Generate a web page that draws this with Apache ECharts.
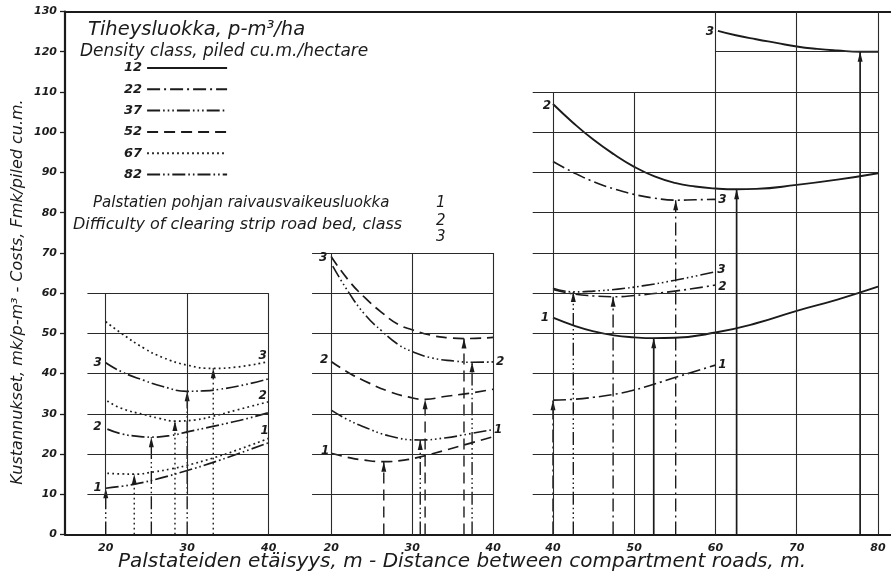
<!DOCTYPE html>
<html>
<head>
<meta charset="utf-8">
<script src="https://cdn.jsdelivr.net/npm/echarts@6/dist/echarts.min.js"></script>
<style>
  html, body { margin: 0; padding: 0; background: #ffffff; }
  #chart { width: 891px; height: 575px; }
</style>
</head>
<body>
<div id="chart"></div>
<script>
// ---- Values ----------------------------------------------------------
// Cost axis (Fmk per piled cu.m.)
const costTicks = [0, 10, 20, 30, 40, 50, 60, 70, 80, 90, 100, 110, 120, 130];
// Distance axis labels of the three panels (m)
const distTicksA = [20, 30, 40];
const distTicksB = [20, 30, 40];
const distTicksC = [40, 50, 60, 70, 80];
// Density classes, piled cu.m. per hectare
const densityClasses = ['12', '22', '37', '52', '67', '82'];

// Cost curves [distance m, cost Fmk/piled cu.m.], one per density and clearing class.
// Left panel: densities 82 and 67
const d82c1 = [[20, 11.5], [22, 12.0], [24, 12.7], [26.7, 14.0], [30, 15.9], [33, 17.8], [36, 19.9], [40, 22.8]];
const d82c2 = [[20.2, 26.2], [22, 25.0], [24, 24.4], [25.6, 24.2], [28, 24.6], [30, 25.5], [33, 26.8], [35, 27.7], [37.5, 28.9], [40, 30.3]];
const d82c3 = [[20, 42.7], [22, 40.4], [24.7, 38.3], [27, 36.8], [30, 35.6], [32, 35.7], [34, 36.1], [37, 37.2], [40, 38.7]];
const d67c1 = [[20.2, 15.2], [22, 15.05], [23.5, 15.0], [26, 15.6], [28, 16.3], [30, 17.2], [33, 18.9], [36, 20.9], [40, 23.9]];
const d67c2 = [[20.2, 33.2], [22, 31.3], [24.7, 29.8], [26.5, 28.9], [28.5, 28.2], [31, 28.5], [33, 29.3], [36, 30.9], [40, 33.0]];
const d67c3 = [[20, 52.9], [22, 49.9], [24.7, 46.3], [27, 44.0], [30, 42.1], [33.2, 41.3], [36, 41.6], [40, 43.0]];
// Middle panel: densities 52 and 37
const d52c1 = [[20, 20.2], [22, 19.2], [24, 18.5], [26.5, 18.1], [29, 18.5], [31, 19.3], [34, 20.9], [37, 22.6], [40, 24.3]];
const d52c2 = [[20, 43.0], [22, 40.4], [24, 38.3], [27.2, 35.5], [29.5, 34.2], [31.6, 33.6], [34, 34.3], [37, 35.1], [40, 36.1]];
const d52c3 = [[20, 69.1], [22.1, 63.3], [24.2, 58.8], [26.3, 55.1], [28.3, 52.2], [30, 50.9], [32.4, 49.5], [34.5, 48.9], [36.4, 48.7], [40, 49.0]];
const d37c1 = [[20, 30.9], [22, 28.6], [24, 26.8], [27.2, 24.5], [31, 23.5], [34, 24.0], [37, 25.0], [40, 26.1]];
const d37c2 = [[20.2, 66.7], [22.1, 60.4], [24.2, 54.6], [26.3, 50.5], [28.3, 47.2], [30, 45.5], [32.4, 43.9], [35.3, 43.1], [37.4, 42.8], [40, 42.9]];
// Right panel: densities 37 (class 3), 22 and 12
const d37c3 = [[40, 61.2], [42.5, 60.3], [45, 60.5], [48, 61.0], [51, 61.8], [55, 63.2], [60, 65.3]];
const d22c1 = [[40, 33.4], [42.5, 33.6], [45, 34.1], [47.4, 34.8], [50, 35.9], [55, 39.0], [60, 42.1]];
const d22c2 = [[40, 60.9], [42.5, 59.8], [45, 59.3], [47.4, 59.1], [50, 59.4], [55, 60.5], [60, 62.0]];
const d22c3 = [[40, 92.7], [42.5, 90.0], [45, 87.7], [47.5, 85.9], [50.3, 84.4], [52.5, 83.6], [55.1, 83.1], [57.5, 83.2], [60, 83.3]];
const d12c1 = [[40, 53.9], [42.5, 52.0], [45, 50.5], [47.5, 49.5], [50, 49.0], [52.4, 48.8], [55, 48.9], [60, 50.2], [65, 52.5], [70, 55.6], [75, 58.4], [80, 61.6]];
const d12c2 = [[40, 107.0], [42.5, 102.3], [45, 98.1], [47.5, 94.5], [50, 91.4], [52.5, 89.0], [55, 87.4], [57.5, 86.5], [60, 86.0], [62.6, 85.8], [65, 85.9], [70, 86.9], [75, 88.2], [80, 89.8]];
const d12c3 = [[60.3, 125.2], [62.5, 124.1], [65, 123.1], [67.5, 122.2], [70, 121.3], [72.5, 120.7], [75, 120.3], [77.8, 120.0], [80, 120.0]];

// ---- Styling -----------------------------------------------------------
const INK = '#1b1b1b';
const LINE_INK = '#2a2a2a';
const dashOf = {
  '12': 'solid',
  '22': [13, 4, 2, 4],
  '37': [13, 3, 1.6, 3, 1.6, 3, 1.6, 3],
  '52': [11, 6],
  '67': [1.8, 3.2],
  '82': [13, 3, 1.6, 3, 1.6, 3]
};
const widthOf = { '12': 1.9, '22': 1.6, '37': 1.6, '52': 1.7, '67': 1.7, '82': 1.7 };
const numFont = { fontFamily: 'DejaVu Sans', fontStyle: 'italic', fontWeight: 'bold', color: INK };

// Panels: A (left), B (middle), C (right); grid 3 carries the frame and cost axis
const PA = 0, PB = 1, PC = 2, FRAME = 3;
const panelMin = [15, 14.8, 35.08];
const panelMax = [42.5, 42.45, 81.6];

function optimum(data) {
  let best = data[0];
  for (const p of data) if (p[1] < best[1]) best = p;
  return best;
}

// A cost curve with its class number written at one end
function curve(density, data, panel, tag, end, offset) {
  const pt = end === 'start' ? data[0] : data[data.length - 1];
  const off = offset || (end === 'start' ? [-8, 0] : [7, 0]);
  return {
    type: 'line', name: density, xAxisIndex: panel, yAxisIndex: panel,
    data: data, smooth: 0.5,
    symbol: 'none', showSymbol: false, silent: true, animation: false, z: 4,
    itemStyle: { color: INK },
    lineStyle: { color: INK, width: widthOf[density], type: dashOf[density] },
    markPoint: {
      silent: true, animation: false, symbol: 'circle', symbolSize: 1,
      itemStyle: { color: 'rgba(0,0,0,0)' },
      label: {
        show: true, position: 'inside', offset: off, formatter: tag,
        fontSize: 12, fontFamily: 'DejaVu Sans', fontStyle: 'italic', fontWeight: 'bold', color: INK
      },
      data: [{ coord: pt }]
    }
  };
}

// Vertical arrow from the distance axis up to the cost minimum of a curve
function arrow(density, data, panel) {
  const [x, y] = optimum(data);
  return {
    type: 'line', name: density, xAxisIndex: panel, yAxisIndex: panel,
    silent: true, animation: false, z: 3, showSymbol: true, symbol: 'none',
    itemStyle: { color: INK },
    lineStyle: { color: INK, width: density === '12' ? 1.7 : 1.4, type: dashOf[density] },
    data: [
      [x, 0],
      { value: [x, y], symbol: 'triangle', symbolSize: [5, 10], symbolOffset: [0, '50%'], itemStyle: { color: INK } }
    ]
  };
}

// Ruled lattice of a panel, drawn as segments in the panel's own coordinates
function lattice(panel, segs, heavy) {
  const data = segs.map(s => [{ coord: [s[0], s[1]] }, { coord: [s[2], s[3]] }]);
  const heavyData = (heavy || []).map(s => [
    { coord: [s[0], s[1]], lineStyle: { width: 2.2, color: INK } },
    { coord: [s[2], s[3]] }
  ]);
  return {
    type: 'line', xAxisIndex: panel, yAxisIndex: panel, data: [], silent: true,
    animation: false, clip: false, z: 1,
    markLine: {
      silent: true, animation: false, symbol: ['none', 'none'], precision: 4,
      label: { show: false },
      lineStyle: { color: LINE_INK, width: 1.1, type: 'solid' },
      emphasis: { disabled: true },
      data: data.concat(heavyData)
    }
  };
}

function hRules(ys, x0, x1) { return ys.map(y => [x0, y, x1, y]); }
function vRules(xs, y0, y1) { return xs.map(x => [x, y0, x, y1]); }

const latticeA = [].concat(
  hRules([10, 20, 30, 40, 50, 60], 17.75, 40),
  vRules([20, 30], 10, 60),
  vRules([40], 0, 60)
);
const latticeB = [].concat(
  hRules([10, 20, 30, 40, 50, 60, 70], 17.65, 40),
  vRules([20, 30, 40], 0, 70)
);
const latticeC = [].concat(
  hRules([10, 20, 30, 40, 50, 60, 70, 80, 90, 100, 110], 37.5, 80),
  hRules([120], 60, 80),
  vRules([40, 50], 0, 110),
  vRules([60, 70, 80], 0, 130)
);
// Heavy dividers between the panels, running a little below the distance axis
const dividerB = [[panelMin[PB], -4.3, panelMin[PB], 71.4]];
const dividerC = [[panelMin[PC], -4.3, panelMin[PC], 90.4]];

const TOP = 11.5, HEIGHT = 523;
const grids = [
  { left: 65, top: TOP, width: 224, height: HEIGHT },
  { left: 289, top: TOP, width: 224, height: HEIGHT },
  { left: 513, top: TOP, width: 378, height: HEIGHT },
  { left: 65, top: TOP, width: 826, height: HEIGHT }
];

function panelX(i, ticks) {
  return {
    type: 'value', gridIndex: i, min: panelMin[i], max: panelMax[i], position: 'bottom',
    axisLine: { show: false }, axisTick: { show: false }, splitLine: { show: false },
    axisLabel: Object.assign({ customValues: ticks, margin: 8, fontSize: 11 }, numFont)
  };
}
function hiddenY(i) {
  return { type: 'value', gridIndex: i, min: 0, max: 130, show: false, splitLine: { show: false } };
}

const series = [
  lattice(PA, latticeA),
  lattice(PB, latticeB, dividerB),
  lattice(PC, latticeC, dividerC),

  curve('12', d12c1, PC, '1', 'start'),
  curve('22', d22c1, PC, '1', 'end'),
  curve('37', d37c1, PB, '1', 'end', [5, 0]),
  curve('52', d52c1, PB, '1', 'start', [-6, -2]),
  curve('67', d67c1, PA, '1', 'end', [-4, -7]),
  curve('82', d82c1, PA, '1', 'start'),

  curve('12', d12c2, PC, '2', 'start', [-6, 2]),
  curve('22', d22c2, PC, '2', 'end', [7, 2]),
  curve('37', d37c2, PB, '2', 'end'),
  curve('52', d52c2, PB, '2', 'start', [-7, -2]),
  curve('67', d67c2, PA, '2', 'end', [-6, -6]),
  curve('82', d82c2, PA, '2', 'start', [-10, -2]),

  curve('12', d12c3, PC, '3', 'start', [-8, 1]),
  curve('22', d22c3, PC, '3', 'end'),
  curve('37', d37c3, PC, '3', 'end', [6, -2]),
  curve('52', d52c3, PB, '3', 'start', [-8, 1]),
  curve('67', d67c3, PA, '3', 'end', [-6, -6]),
  curve('82', d82c3, PA, '3', 'start'),

  arrow('82', d82c1, PA), arrow('82', d82c2, PA), arrow('82', d82c3, PA),
  arrow('67', d67c1, PA), arrow('67', d67c2, PA), arrow('67', d67c3, PA),
  arrow('52', d52c1, PB), arrow('52', d52c2, PB), arrow('52', d52c3, PB),
  arrow('37', d37c1, PB), arrow('37', d37c2, PB), arrow('37', d37c3, PC),
  arrow('22', d22c1, PC), arrow('22', d22c2, PC), arrow('22', d22c3, PC),
  arrow('12', d12c1, PC), arrow('12', d12c2, PC), arrow('12', d12c3, PC)
];

const textFont = '"DejaVu Sans"';
function note(text, x, y, size, align, rotation) {
  const el = {
    type: 'text', x: x, y: y, silent: true,
    style: {
      text: text, x: 0, y: 0, fill: INK,
      font: 'italic ' + size + 'px ' + textFont,
      align: align || 'left', textAlign: align || 'left',
      verticalAlign: 'middle', textVerticalAlign: 'middle'
    }
  };
  if (rotation) el.rotation = rotation;
  return el;
}

const option = {
  backgroundColor: '#ffffff',
  animation: false,
  color: [INK],
  grid: grids,
  xAxis: [
    panelX(PA, distTicksA),
    panelX(PB, distTicksB),
    panelX(PC, distTicksC),
    { type: 'value', gridIndex: FRAME, min: 0, max: 1, position: 'bottom',
      axisLine: { show: true, lineStyle: { color: INK, width: 2.2 } },
      axisTick: { show: false }, axisLabel: { show: false }, splitLine: { show: false } },
    { type: 'value', gridIndex: FRAME, min: 0, max: 1, position: 'top',
      axisLine: { show: true, lineStyle: { color: INK, width: 2.2 } },
      axisTick: { show: false }, axisLabel: { show: false }, splitLine: { show: false } }
  ],
  yAxis: [
    hiddenY(PA), hiddenY(PB), hiddenY(PC),
    { type: 'value', gridIndex: FRAME, min: costTicks[0], max: costTicks[costTicks.length - 1],
      interval: costTicks[1] - costTicks[0], position: 'left',
      axisLine: { show: true, lineStyle: { color: INK, width: 2.2 } },
      axisTick: { show: true, length: 5, lineStyle: { color: INK, width: 1.3 } },
      axisLabel: Object.assign({ margin: 8, fontSize: 11 }, numFont),
      splitLine: { show: false } }
  ],
  legend: {
    data: densityClasses, orient: 'vertical', left: 124, top: 61.5, padding: 0,
    align: 'right', itemWidth: 80, itemHeight: 12, itemGap: 8.3,
    selectedMode: false,
    itemStyle: { opacity: 0, borderWidth: 0 },
    textStyle: { fontSize: 13, fontFamily: 'DejaVu Sans', fontStyle: 'italic', fontWeight: 'bold', color: INK }
  },
  graphic: [
    note('Tiheysluokka, p-m³/ha', 88, 30, 19.5),
    note('Density class, piled cu.m./hectare', 80, 52, 17),
    note('Palstatien pohjan raivausvaikeusluokka', 93, 203, 15),
    note('Difficulty of clearing strip road bed, class', 73, 225, 16),
    note('1', 436, 203, 15),
    note('2', 436, 221, 15),
    note('3', 436, 237, 15),
    note('Kustannukset, mk/p-m³ - Costs, Fmk/piled cu.m.', 18, 292, 16, 'center', Math.PI / 2),
    note('Palstateiden etäisyys, m - Distance between compartment roads, m.', 462, 562, 20, 'center')
  ],
  series: series
};

const chart = echarts.init(document.getElementById('chart'), null, { renderer: 'canvas' });
chart.setOption(option);
</script>
</body>
</html>
